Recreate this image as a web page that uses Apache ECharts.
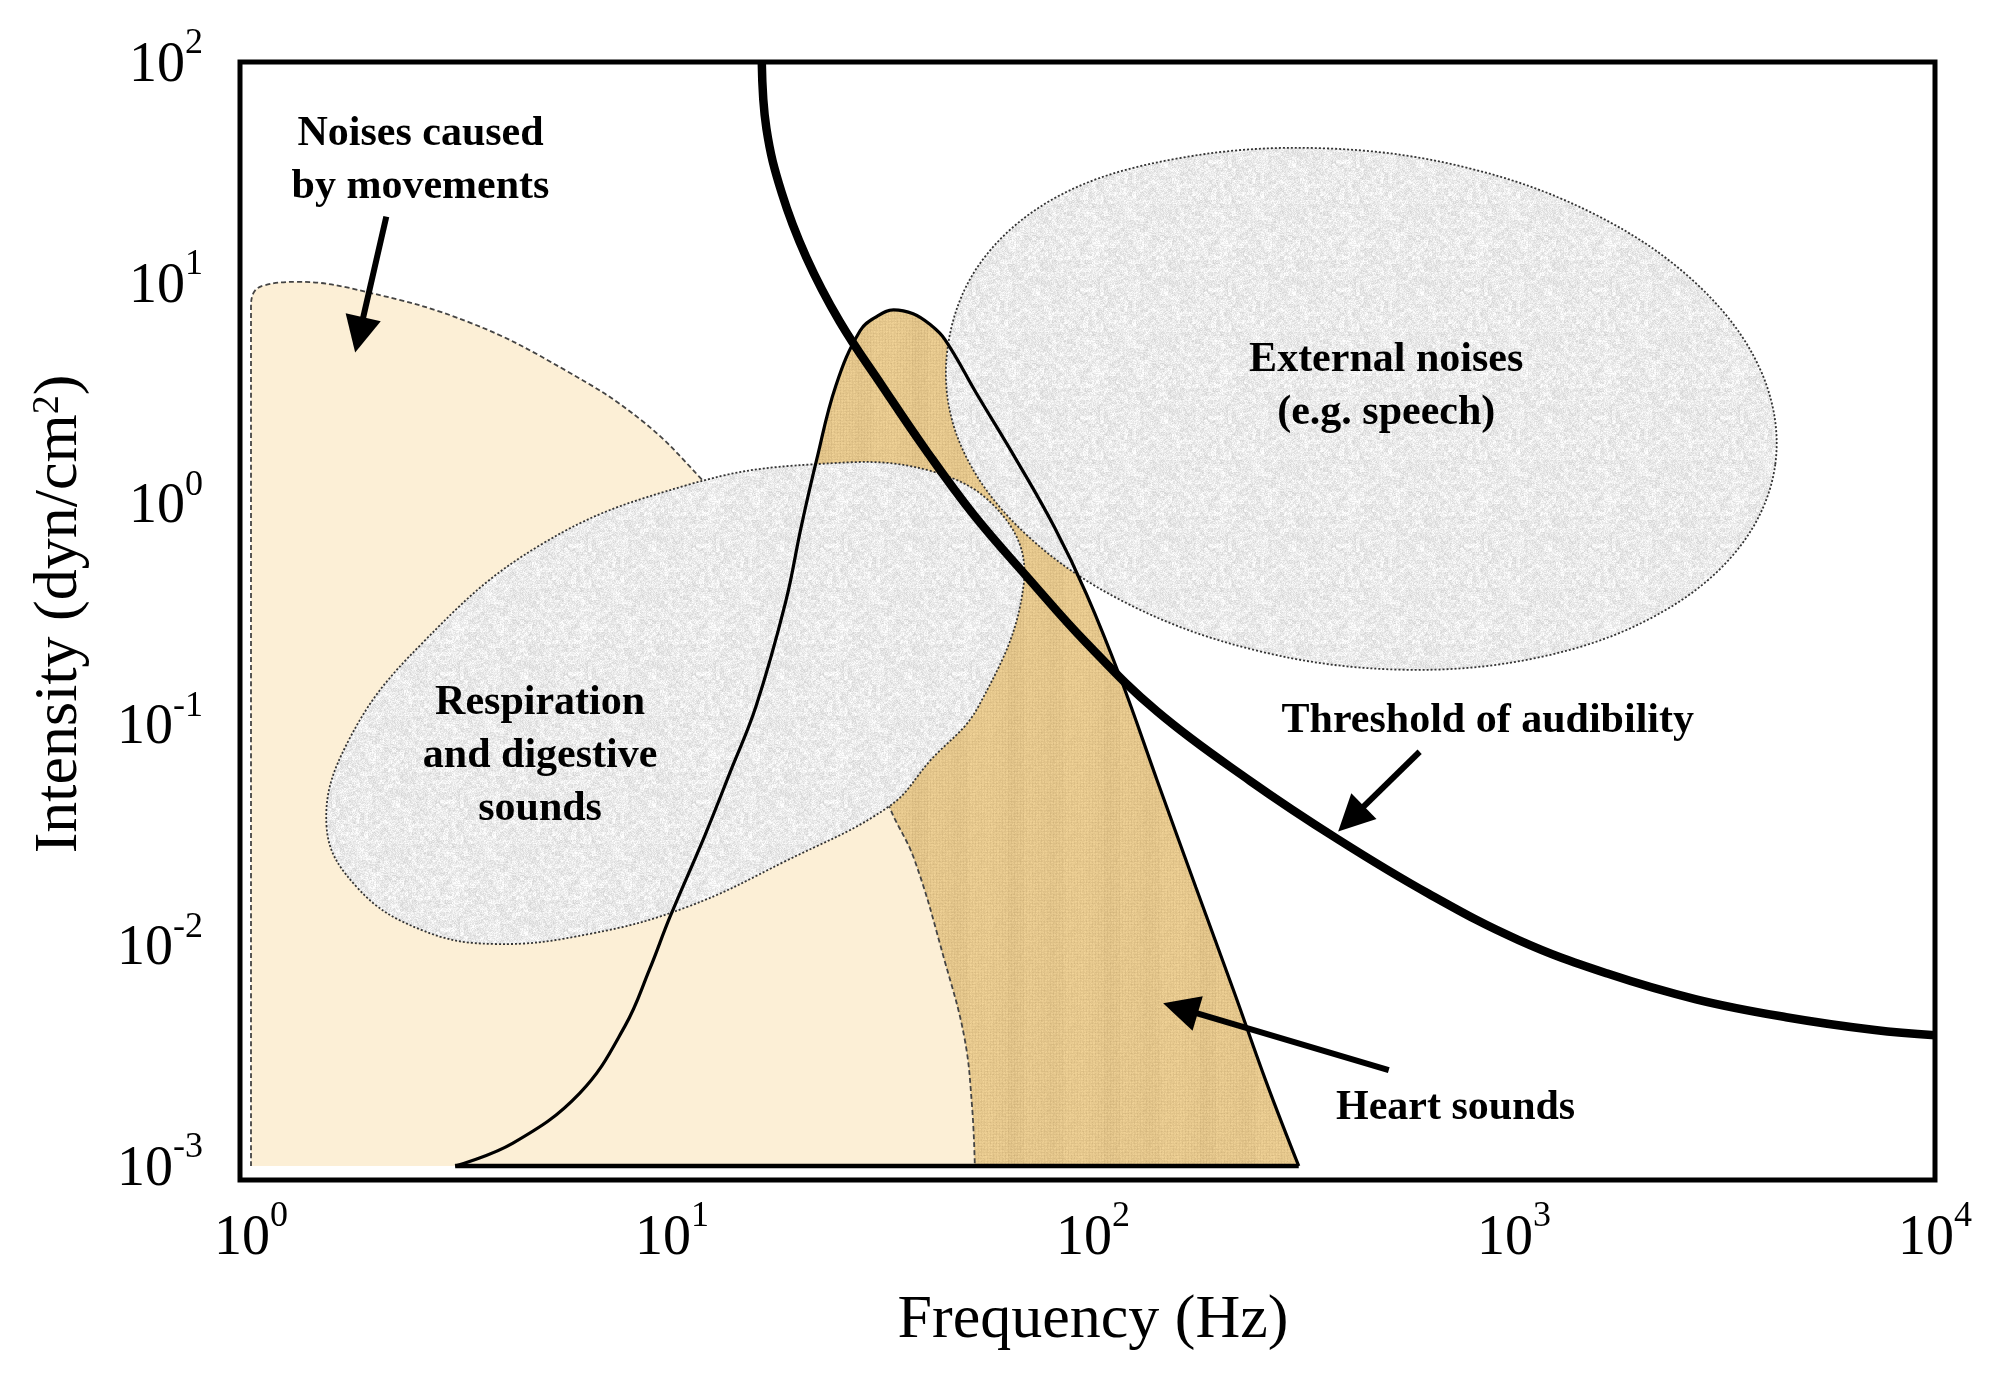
<!DOCTYPE html>
<html>
<head>
<meta charset="utf-8">
<script src="https://cdn.jsdelivr.net/npm/echarts@6/dist/echarts.min.js"></script>
<style>
html,body{margin:0;padding:0;background:#fff;}
#c{width:2016px;height:1392px;}
</style>
</head>
<body>
<div id="c"></div>
<script>
// ---------------- DATA (frequency in Hz, intensity in dyn/cm^2) ----------------
const xTickExponents = [0, 1, 2, 3, 4];
const yTickExponents = [-3, -2, -1, 0, 1, 2];

// Threshold of audibility curve
const thresholdCurve = [
  [16.34, 100], [16.76, 49.9], [18.23, 25.5], [20.84, 13.06], [25.02, 6.68], [31.55, 3.416],
  [40.09, 1.747], [51.98, 0.894], [70.37, 0.457], [96.5, 0.2337], [142.1, 0.1143],
  [235.8, 0.0556], [383.2, 0.03003], [626.9, 0.0171], [1025.6, 0.01055], [1667, 0.00744],
  [2707, 0.00569], [4430, 0.00472], [7195, 0.00413], [10000, 0.00391]
];

// Heart sounds region (upper boundary, closed by the 10^-3 floor)
const heartSounds = [
  [3.055, 0.001], [4.19, 0.00127], [6.04, 0.00214], [7.73, 0.0043], [8.84, 0.00775],
  [9.89, 0.01343], [11.96, 0.0313], [13.76, 0.0611], [15.84, 0.1211], [18.62, 0.359],
  [20.26, 0.781], [22.04, 1.569], [24.5, 3.42], [28.0, 6.08], [30.7, 7.05], [33.6, 7.54],
  [37.4, 7.24], [40.9, 6.50], [44.5, 5.53], [53.1, 3.11], [65.6, 1.59], [81.0, 0.781],
  [96.5, 0.389], [116.8, 0.158], [142.1, 0.0556], [175.5, 0.0183], [216.7, 0.00609],
  [258.4, 0.00238], [308.1, 0.001]
];
const heartFloor = [[3.055, 0.001], [308.1, 0.001]];

// Noises caused by movements (upper boundary, closed by the 10^-3 floor)
const movementNoise = [
  [1, 0.001], [1, 7.64], [1.013, 8.97], [1.071, 9.72], [1.286, 10.1], [1.88, 9.09],
  [3.32, 6.59], [5.59, 4.01], [8.47, 2.38], [11.63, 1.318], [17.23, 0.559], [24.5, 0.2044],
  [30.26, 0.0699], [32.8, 0.04256], [37.6, 0.02457], [44.5, 0.0084], [49.5, 0.00381],
  [51.6, 0.00187], [52.4, 0.001]
];

// Respiration and digestive sounds (closed outline)
const respiration = [
  [1.512, 0.0343], [1.704, 0.0843], [2.536, 0.2306], [4.915, 0.6567], [10.91, 1.216],
  [21.74, 1.507], [40.9, 1.41], [61.1, 0.882], [68.4, 0.427], [53.5, 0.1211],
  [40.9, 0.068], [32.8, 0.04256], [18.49, 0.0239], [10.91, 0.01495], [6.418, 0.01128],
  [3.772, 0.01013], [2.536, 0.01174], [1.797, 0.01805]
];

// External noises (closed outline)
const externalNoise = [
  [4175, 1.507], [3419, 0.629], [2182, 0.3126], [1145, 0.2011], [534.4, 0.177],
  [243.4, 0.2165], [118.8, 0.358], [67.8, 0.7556], [48.4, 1.858], [44.98, 4.776],
  [53.85, 12.21], [83.27, 24.86], [160.2, 36.68], [351.4, 40.67], [771.5, 33.25],
  [1581, 20.11], [2771, 9.53], [3884, 3.875]
];

// Annotation anchors and texts
const annotationPos = [[2.527, 35.7], [497.1, 3.37], [4.86, 0.0718], [866.4, 0.1031], [726.6, 0.00182]];
const annotationText = [
  'Noises caused\nby movements',
  'External noises\n(e.g. speech)',
  'Respiration\nand digestive\nsounds',
  'Threshold of audibility',
  'Heart sounds'
];

// Arrows: [tail, head]
const arrows = [
  [[2.096, 19.93], [1.807, 5.81]],
  [[596.8, 0.0752], [410.1, 0.03736]],
  [[504.1, 0.00272], [161.3, 0.00518]]
];

// ---------------- STYLE HELPERS ----------------
const SERIF = '"Liberation Serif", "Times New Roman", serif';
function hash(n) {
  n = n | 0;
  n = Math.imul(n ^ (n >>> 16), 0x45d9f3b);
  n = Math.imul(n ^ (n >>> 16), 0x45d9f3b);
  n = n ^ (n >>> 16);
  return (n >>> 0) / 4294967296;
}
const clamp = v => Math.max(0, Math.min(255, Math.round(v)));
function makeTexture(size, fn) {
  const c = document.createElement('canvas');
  c.width = c.height = size;
  const ctx = c.getContext('2d');
  const img = ctx.createImageData(size, size);
  for (let y = 0; y < size; y++) {
    for (let x = 0; x < size; x++) {
      const col = fn(x, y);
      const k = (y * size + x) * 4;
      img.data[k] = col[0]; img.data[k + 1] = col[1]; img.data[k + 2] = col[2]; img.data[k + 3] = 255;
    }
  }
  ctx.putImageData(img, 0, 0);
  return c;
}
const grayTex = makeTexture(128, (x, y) => {
  const fine = hash(x * 73856093 ^ y * 19349663) - 0.5;
  const coarse = hash(((x >> 2) * 83492791) ^ ((y >> 2) * 1640531527)) - 0.5;
  const v = clamp(235 + fine * 30 + coarse * 18);
  return [v, v, v];
});
const heartTex = makeTexture(96, (x, y) => {
  const n = hash(x * 374761393 ^ y * 668265263) - 0.5;
  let d = n * 14;
  if (x % 3 === 0) d -= 7;
  if (y % 3 === 0) d -= 7;
  d += (hash((x >> 3) * 1103515245 + 12345) - 0.5) * 8;
  return [clamp(232 + d), clamp(202 + d), clamp(143 + d * 0.9)];
});
const grayFill = { image: grayTex, repeat: 'repeat' };
const heartFill = { image: heartTex, repeat: 'repeat' };

const exponentOf = v => Math.round(Math.log10(v));
const tickRich = {
  b: { fontFamily: SERIF, fontSize: 56, lineHeight: 80, color: '#000' },
  s: { fontFamily: SERIF, fontSize: 36, lineHeight: 36, verticalAlign: 'top', color: '#000' }
};
const xTickFormatter = v => xTickExponents.includes(exponentOf(v)) ? '{b|10}{s|' + exponentOf(v) + '}' : '';
const yTickFormatter = v => yTickExponents.includes(exponentOf(v)) ? '{b|10}{s|' + exponentOf(v) + '}' : '';

function closedShapeRenderer(points, fill, smooth) {
  return function (params, api) {
    if (params.dataIndex !== 0) return null;
    const pts = points.map(p => api.coord(p));
    return {
      type: 'polygon',
      shape: { points: pts, smooth: smooth },
      style: { fill: fill, stroke: '#333', lineWidth: 1.8, lineDash: [2, 2] }
    };
  };
}

// ---------------- CHART ----------------
const chart = echarts.init(document.getElementById('c'), null, { renderer: 'canvas' });
chart.setOption({
  backgroundColor: '#ffffff',
  animation: false,
  grid: [
    { left: 251, right: 81, top: 62, bottom: 226, show: false },
    { left: 240, right: 81, top: 62, bottom: 212, show: true, borderColor: '#000', borderWidth: 5, backgroundColor: 'transparent' }
  ],
  xAxis: [
    {
      type: 'log', logBase: 10, min: 1, max: 10000, gridIndex: 0,
      axisLine: { show: false }, axisTick: { show: false }, splitLine: { show: false },
      axisLabel: { formatter: xTickFormatter, margin: 33, rich: tickRich },
      name: 'Frequency (Hz)', nameLocation: 'middle', nameGap: 124,
      nameTextStyle: { fontFamily: SERIF, fontSize: 62, color: '#000' }
    },
    { type: 'value', gridIndex: 1, show: false, min: 0, max: 1 }
  ],
  yAxis: [
    {
      type: 'log', logBase: 10, min: 0.001, max: 100, gridIndex: 0,
      axisLine: { show: false }, axisTick: { show: false }, splitLine: { show: false },
      axisLabel: { formatter: yTickFormatter, margin: 48, rich: tickRich, padding: [8, 0, 0, 0] },
      name: '{a|Intensity (dyn/cm}{s|2}{a|)}', nameLocation: 'middle', nameGap: 160, nameRotate: 90,
      nameTextStyle: {
        rich: {
          a: { fontFamily: SERIF, fontSize: 62, color: '#000' },
          s: { fontFamily: SERIF, fontSize: 38, verticalAlign: 'top', color: '#000' }
        }
      }
    },
    { type: 'value', gridIndex: 1, show: false, min: 0, max: 1 }
  ],
  series: [
    {
      name: 'heartFill', type: 'line', xAxisIndex: 0, yAxisIndex: 0, data: heartSounds,
      smooth: 0.4, symbol: 'none', silent: true, z: 1,
      lineStyle: { width: 0, opacity: 0 },
      areaStyle: { color: heartFill, opacity: 1, origin: 'start' }
    },
    {
      name: 'movement', type: 'line', xAxisIndex: 0, yAxisIndex: 0, data: movementNoise,
      smooth: 0.4, symbol: 'none', silent: true, z: 2,
      lineStyle: { color: '#444', width: 1.8, type: [5, 3] },
      areaStyle: { color: '#fcefd6', opacity: 1, origin: 'start' }
    },
    {
      name: 'respiration', type: 'custom', xAxisIndex: 0, yAxisIndex: 0, data: respiration,
      renderItem: closedShapeRenderer(respiration, grayFill, 0.4), silent: true, z: 3
    },
    {
      name: 'external', type: 'custom', xAxisIndex: 0, yAxisIndex: 0, data: externalNoise,
      renderItem: closedShapeRenderer(externalNoise, grayFill, 0.35), silent: true, z: 3
    },
    {
      name: 'heartOutline', type: 'line', xAxisIndex: 0, yAxisIndex: 0, data: heartSounds,
      smooth: 0.4, symbol: 'none', silent: true, z: 5,
      lineStyle: { color: '#000', width: 3.2 }
    },
    {
      name: 'heartFloor', type: 'line', xAxisIndex: 0, yAxisIndex: 0, data: heartFloor,
      symbol: 'none', silent: true, z: 5, clip: false,
      lineStyle: { color: '#000', width: 4.5 }
    },
    {
      name: 'threshold', type: 'line', xAxisIndex: 0, yAxisIndex: 0, data: thresholdCurve,
      smooth: 0.4, symbol: 'none', silent: true, z: 6,
      lineStyle: { color: '#000', width: 8.5 }
    },
    {
      name: 'arrows', type: 'lines', coordinateSystem: 'cartesian2d', xAxisIndex: 0, yAxisIndex: 0,
      data: arrows.map(a => ({ coords: a })),
      symbol: ['none', 'triangle'], symbolSize: 36, silent: true, z: 7,
      lineStyle: { color: '#000', width: 6, opacity: 1, curveness: 0 }
    },
    {
      name: 'labels', type: 'custom', xAxisIndex: 0, yAxisIndex: 0, data: annotationPos, silent: true, z: 8,
      renderItem: function (params, api) {
        const p = api.coord([api.value(0), api.value(1)]);
        return {
          type: 'text', x: p[0], y: p[1],
          style: {
            text: annotationText[params.dataIndex],
            font: 'bold 42px ' + SERIF,
            align: 'center', verticalAlign: 'middle',
            lineHeight: 53, fill: '#000'
          }
        };
      }
    }
  ]
});
</script>
</body>
</html>
